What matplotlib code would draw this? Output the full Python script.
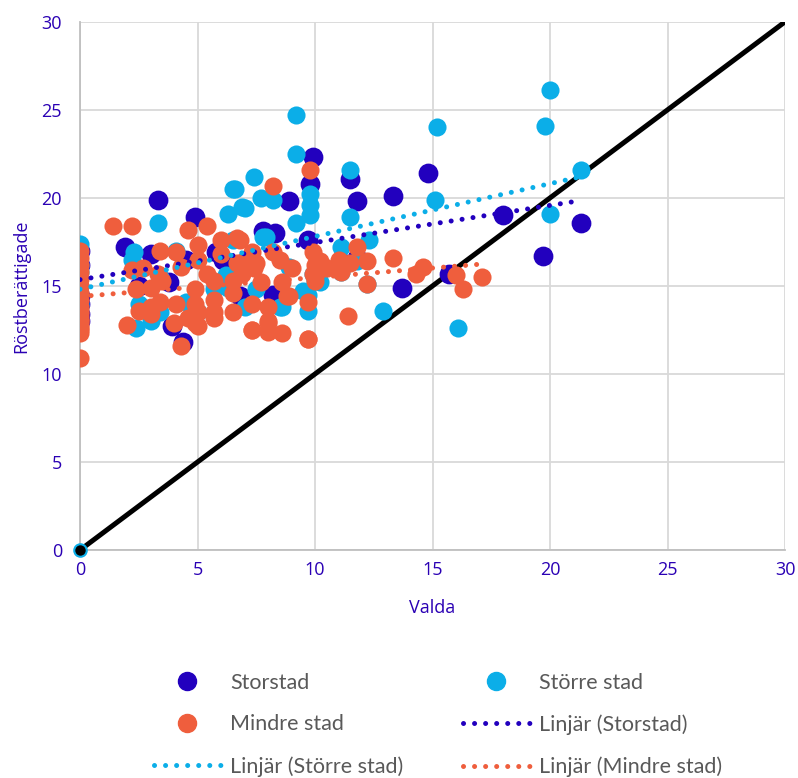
import numpy as np
import matplotlib
matplotlib.use('Agg')
import matplotlib.pyplot as plt
from matplotlib.lines import Line2D

# Storstad
stor_x = [0, 0, 0, 0, 0, 0, 1.9, 3.3, 3.8, 3.9, 4.4, 4.9, 5.8, 6.1, 6.8, 7.8, 8.3,
          8.2, 8.9, 9.7, 9.9, 9.8, 11.5, 11.8, 11.2, 11.8, 13.3, 13.7, 14.8, 15.7,
          18.0, 19.7, 21.3, 2.5, 4.5, 3.0]
stor_y = [17.0, 16.2, 14.4, 13.4, 13.0, 14.0, 17.2, 19.9, 15.2, 12.7, 11.8, 18.9,
          16.9, 16.5, 14.4, 18.1, 18.0, 14.5, 19.8, 17.6, 22.3, 20.8, 21.1, 19.8,
          16.3, 16.6, 20.1, 14.9, 21.4, 15.7, 19.0, 16.7, 18.6, 15.0, 16.5, 16.8]

# Större stad
storre_x = [20.0, 19.8, 15.2, 15.1, 21.3, 20.0, 16.1, 12.9, 9.2, 9.2, 11.5, 7.4,
            7.0, 7.7, 8.2, 9.8, 9.8, 9.8, 9.2, 11.5, 11.1, 12.3, 7.8, 9.7, 8.6,
            10.2, 9.5, 8.9, 6.6, 6.3, 7.9, 6.5, 6.2, 5.7, 7.5, 8.5, 6.5, 6.9,
            3.3, 2.3, 4.1, 2.4, 3.4, 3.4, 6.3, 0, 0, 0, 4.5,
            2.5, 3.0, 5.0, 9.7, 7.0,
            0, 0, 2.2, 10.0, 11.1, 12.2, 9.9, 11.8]
storre_y = [26.1, 24.1, 24.0, 19.9, 21.6, 19.1, 12.6, 13.6, 24.7, 22.5, 21.6, 21.2,
            19.4, 20.0, 19.9, 20.2, 19.6, 19.0, 18.6, 18.9, 17.2, 17.6, 17.8, 13.6,
            13.8, 15.2, 14.7, 16.1, 20.5, 19.1, 17.8, 17.6, 15.6, 14.8, 14.8, 13.8,
            20.5, 19.5, 18.6, 16.9, 17.0, 12.6, 13.5, 15.5, 14.9, 17.4, 15.0, 14.0,
            14.1,
            14.0, 13.0, 13.5, 14.5, 13.8,
            16.2, 15.8, 16.5, 15.3, 15.8, 15.1, 15.7, 16.4]

# Mindre stad
mindre_x = [0, 0, 0, 0, 0, 0, 0, 0, 0, 0, 0, 0, 0, 0, 0, 0, 0, 0, 0,
            1.4, 2.2, 4.6, 5.4, 5.0, 8.2, 9.8, 11.8, 12.2, 13.3, 11.1, 12.2, 11.4,
            9.7, 10.2, 9.9, 9.9, 10.0, 9.7, 8.6, 8.8, 8.0, 8.0, 8.6, 7.3, 7.3,
            7.7, 6.9, 7.5, 7.3, 8.2, 6.8, 14.3, 14.6, 16.0, 16.3, 17.1,
            6.0, 6.7, 6.7, 5.4, 6.5, 4.9, 4.9, 4.9, 5.7, 5.7, 6.5, 6.5, 7.3,
            8.0, 8.0, 8.9, 9.7, 4.3,
            3.4, 4.1, 2.2, 2.7, 3.3, 2.4, 3.0, 2.5, 3.0, 3.4, 2.0, 3.0, 4.1,
            4.0, 4.3, 4.6, 3.5, 5.7, 5.7, 7.4, 5.0, 5.0,
            10.5, 11.0, 5.0, 6.0, 7.0, 8.5, 9.0, 10.0, 11.5]
mindre_y = [17.0, 16.6, 16.2, 15.8, 15.4, 15.0, 14.6, 14.2, 13.8, 13.4, 13.0,
            12.6, 12.3, 10.9, 12.5, 13.2, 13.6, 12.8, 13.0,
            18.4, 18.4, 18.2, 18.4, 17.3, 20.7, 21.6, 17.2, 16.4, 16.6, 15.8, 15.1,
            13.3, 12.0, 16.4, 16.9, 15.7, 15.3, 14.1, 15.2, 14.4, 13.8, 13.0, 12.3,
            12.5, 14.0, 15.2, 15.7, 16.3, 16.9, 16.9, 17.6, 15.7, 16.1, 15.6, 14.8,
            15.5,
            17.6, 17.7, 16.3, 15.7, 15.3, 14.8, 14.0, 12.9, 14.2, 13.2, 14.6, 13.5,
            12.5, 12.9, 12.4, 14.4, 12.0, 16.1,
            17.0, 16.9, 15.9, 16.0, 15.7, 14.8, 14.9, 13.6, 13.4, 14.1, 12.8, 13.8,
            14.0, 12.9, 11.6, 13.2, 15.3, 15.3, 13.5, 16.0, 13.5, 12.7,
            16.0, 16.5, 16.5, 16.8, 16.5, 16.5, 16.0, 16.2, 16.3]

diag_x = [0, 30]
diag_y = [0, 30]

c_stor = '#2200BE'
c_storre = '#0BAEE8'
c_mindre = '#EF5E3D'
c_text = '#2A00B4'

plt.rcParams['font.family'] = 'Open Sans'

fig = plt.figure(figsize=(7.98, 7.78), dpi=100)
ax = fig.add_axes([0.1003, 0.293, 0.8835, 0.679])

ax.plot(diag_x, diag_y, color='black', lw=3.6, zorder=2, solid_capstyle='butt')
ax.plot(diag_x[:1], diag_y[:1], 'o', ms=9, mfc='black', mec=c_storre, mew=1.5,
        zorder=6, clip_on=False)

ax.scatter(stor_x, stor_y, s=170, color=c_stor, edgecolors=c_stor, linewidths=1.2,
           zorder=3, label='Storstad')
ax.scatter(storre_x, storre_y, s=170, color=c_storre, linewidths=0, zorder=4,
           label='Större stad')
ax.scatter(mindre_x, mindre_y, s=170, color=c_mindre, linewidths=0, zorder=5,
           label='Mindre stad')

dot = (0, (0.01, 2.2))
trend = []
for xs, ys, c, name in [(stor_x, stor_y, c_stor, 'Storstad'),
                        (storre_x, storre_y, c_storre, 'Större stad'),
                        (mindre_x, mindre_y, c_mindre, 'Mindre stad')]:
    k, m = np.polyfit(xs, ys, 1)
    tx = np.array([0, max(xs)])
    ln, = ax.plot(tx, k * tx + m, color=c, lw=3.6, linestyle=dot,
                  dash_capstyle='round', zorder=7, label='Linjär (%s)' % name)
    trend.append(ln)

ax.set_xlim(0, 30)
ax.set_ylim(0, 30)
ax.set_xticks(range(0, 31, 5))
ax.set_yticks(range(0, 31, 5))
ax.grid(True, color='#D9D9D9', lw=1.3)
ax.set_axisbelow(True)
for s in ['top', 'right']:
    ax.spines[s].set_visible(False)
for s in ['left', 'bottom']:
    ax.spines[s].set_color('#BFBFBF')
    ax.spines[s].set_linewidth(1.3)
ax.tick_params(length=0, labelsize=13, labelcolor=c_text)
ax.tick_params(axis='y', pad=13)
ax.tick_params(axis='x', pad=8)
ax.set_xlabel('Valda', fontsize=13, color=c_text, labelpad=14)
ax.set_ylabel('Röstberättigade', fontsize=13, color=c_text, labelpad=8)

def mk(c):
    return Line2D([], [], marker='o', color='none', mfc=c, mec=c, ms=13)

handles = [mk(c_stor), mk(c_mindre), trend[1], mk(c_storre), trend[0], trend[2]]
labels = ['Storstad', 'Mindre stad', 'Linjär (Större stad)',
          'Större stad', 'Linjär (Storstad)', 'Linjär (Mindre stad)']
leg = fig.legend(handles, labels, ncol=2, loc='upper center',
                 bbox_to_anchor=(0.549, 0.160), frameon=False,
                 prop={'family': 'Lato', 'size': 15.5}, labelcolor='#595959',
                 handlelength=3.1, handletextpad=0.45, columnspacing=2.75,
                 labelspacing=1.0)

fig.savefig('out.png', dpi=100)
